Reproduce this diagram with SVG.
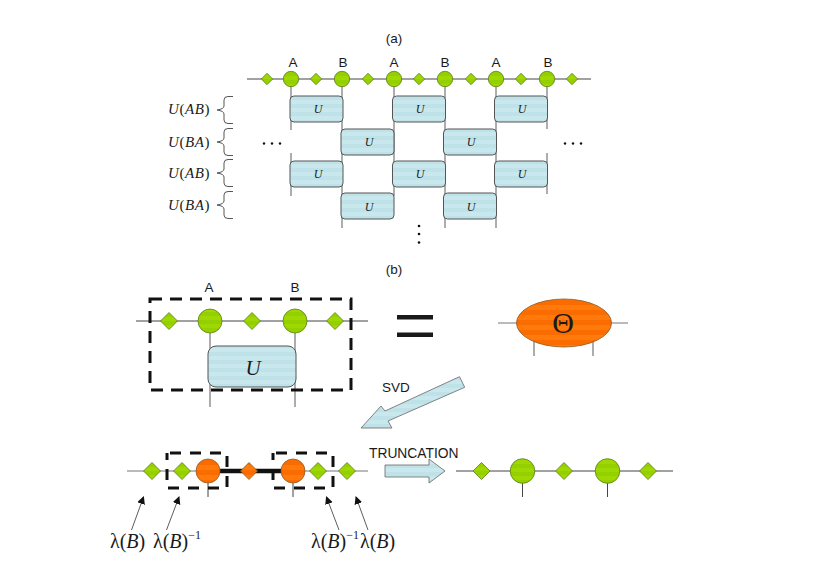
<svg xmlns="http://www.w3.org/2000/svg" width="830" height="587" viewBox="0 0 830 587">
<style>
text{font-family:"Liberation Sans",Arial,sans-serif;fill:#1a1a1a}
.m{font-family:"Liberation Serif","Times New Roman",serif}
.i{font-style:italic}
.w{stroke:#444;stroke-width:1;fill:none}
.wg{stroke:#777;stroke-width:1.2;fill:none}
.g{fill:url(#green);stroke:#5c7d1c;stroke-width:.8}
.o{fill:url(#orange);stroke:#8a5a2a;stroke-width:.8}
.u{fill:url(#blue);stroke:#555;stroke-width:1}
.d{fill:none;stroke:#111;stroke-width:3;stroke-dasharray:12 8}
.ds{fill:none;stroke:#111;stroke-width:3;stroke-dasharray:11 9;stroke-dashoffset:-3}
.br{fill:none;stroke:#444;stroke-width:.9}
.t{text-anchor:middle;font-size:13.500px}
.r{font-size:15px;letter-spacing:.6px}
.ar{fill:url(#blue);stroke:#666;stroke-width:.8}
.pt{stroke:#333;stroke-width:.8;fill:none;marker-end:url(#tip)}
</style>
<defs>
<pattern id="blue" width="8" height="8" patternUnits="userSpaceOnUse"><rect width="8" height="8" fill="#c9e8ed"/><rect width="8" height="4" fill="#bee2e8"/></pattern>
<pattern id="green" width="8" height="8" patternUnits="userSpaceOnUse"><rect width="8" height="8" fill="#9fd800"/><rect width="8" height="4" fill="#94cf00"/></pattern>
<pattern id="orange" width="10" height="10" patternUnits="userSpaceOnUse"><rect width="10" height="10" fill="#ff7a0a"/><rect width="10" height="5" fill="#fb6c00"/></pattern>
<marker id="tip" markerWidth="9" markerHeight="9" refX="7" refY="4" orient="auto" markerUnits="userSpaceOnUse"><path d="M0 0L8 4L0 8Z" fill="#111"/></marker>
<path id="dia-s" d="M0-5.700L5.700 0L0 5.700L-5.700 0Z" class="g"/>
<path id="dia-l" d="M0-8.500L8.500 0L0 8.500L-8.500 0Z" class="g"/>
<path id="brace" d="M16-13.500H11Q7-13.500 7-10V-4Q7-1 0 0Q7 1 7 4V10Q7 13.500 11 13.500H16" class="br"/>
</defs>

<g id="connectors">
  <path class="w" d="M247 79H591"/>
  <path class="wg" d="M291 79V130M291 153V196M342 79V228M394 79V196M445 79V228M496 79V228M547 79V129M547 153V194"/>
  <path class="w" d="M136 321H368"/>
  <path class="wg" d="M210 321V407M295 321V407"/>
  <path class="wg" d="M498 323H628M534 340V356M593 340V356"/>
  <path class="wg" d="M127 471H368"/>
  <path class="w" d="M208 483V497M293 483V497"/>
  <path d="M220 471H281" stroke="#111" stroke-width="4.500" fill="none"/>
  <path class="w" d="M456 471H673M522.500 471V497M607.500 471V497"/>
  <path class="pt" d="M131.500 530L143.500 497"/>
  <path class="pt" d="M166.500 530L179 497"/>
  <path class="pt" d="M339 530L326.500 497"/>
  <path class="pt" d="M368 530L356 497"/>
</g>

<g id="label-a"><text class="t" x="394" y="43">(a)</text></g>
<g id="label-b"><text class="t" x="394" y="274">(b)</text></g>

<g id="top-chain">
  <text class="t" x="293" y="67">A</text><text class="t" x="343" y="67">B</text><text class="t" x="394" y="67">A</text>
  <text class="t" x="445" y="67">B</text><text class="t" x="496" y="67">A</text><text class="t" x="548" y="67">B</text>
  <use href="#dia-s" x="267" y="79"/><use href="#dia-s" x="316" y="79"/><use href="#dia-s" x="368" y="79"/>
  <use href="#dia-s" x="419" y="79"/><use href="#dia-s" x="471" y="79"/><use href="#dia-s" x="521" y="79"/><use href="#dia-s" x="572" y="79"/>
  <circle class="g" cx="291" cy="79" r="7.700"/><circle class="g" cx="342" cy="79" r="7.700"/><circle class="g" cx="394" cy="79" r="7.700"/>
  <circle class="g" cx="445" cy="79" r="7.700"/><circle class="g" cx="496" cy="79" r="7.700"/><circle class="g" cx="547" cy="79" r="7.700"/>
</g>

<g id="gates-row-1">
  <rect class="u" x="290" y="96" width="53" height="26" rx="4"/><rect class="u" x="392.500" y="96" width="53" height="26" rx="4"/><rect class="u" x="494.500" y="96" width="53" height="26" rx="4"/>
  <text class="m i" font-size="12" text-anchor="middle" x="318" y="113">U</text><text class="m i" font-size="12" text-anchor="middle" x="420" y="113">U</text><text class="m i" font-size="12" text-anchor="middle" x="522" y="113">U</text>
</g>
<g id="gates-row-2">
  <rect class="u" x="341" y="129" width="53" height="26" rx="4"/><rect class="u" x="443.500" y="129" width="53" height="26" rx="4"/>
  <text class="m i" font-size="12" text-anchor="middle" x="369" y="146">U</text><text class="m i" font-size="12" text-anchor="middle" x="471" y="146">U</text>
</g>
<g id="gates-row-3">
  <rect class="u" x="290" y="161" width="53" height="26" rx="4"/><rect class="u" x="392.500" y="161" width="53" height="26" rx="4"/><rect class="u" x="494.500" y="161" width="53" height="26" rx="4"/>
  <text class="m i" font-size="12" text-anchor="middle" x="318" y="178">U</text><text class="m i" font-size="12" text-anchor="middle" x="420" y="178">U</text><text class="m i" font-size="12" text-anchor="middle" x="522" y="178">U</text>
</g>
<g id="gates-row-4">
  <rect class="u" x="341" y="193" width="53" height="26" rx="4"/><rect class="u" x="443.500" y="193" width="53" height="26" rx="4"/>
  <text class="m i" font-size="12" text-anchor="middle" x="369" y="211">U</text><text class="m i" font-size="12" text-anchor="middle" x="471" y="211">U</text>
</g>

<g id="row-labels">
  <text class="m r" x="168" y="114"><tspan class="i">U</tspan>(<tspan class="i">AB</tspan>)</text>
  <text class="m r" x="168" y="147"><tspan class="i">U</tspan>(<tspan class="i">BA</tspan>)</text>
  <text class="m r" x="168" y="178"><tspan class="i">U</tspan>(<tspan class="i">AB</tspan>)</text>
  <text class="m r" x="168" y="210"><tspan class="i">U</tspan>(<tspan class="i">BA</tspan>)</text>
  <use href="#brace" x="217" y="110"/><use href="#brace" x="217" y="142"/><use href="#brace" x="217" y="173"/><use href="#brace" x="217" y="205"/>
</g>

<g id="ellipsis-left" fill="#111"><circle cx="264" cy="143.500" r="1.200"/><circle cx="272" cy="143.500" r="1.200"/><circle cx="280" cy="143.500" r="1.200"/></g>
<g id="ellipsis-right" fill="#111"><circle cx="565" cy="143.500" r="1.200"/><circle cx="573" cy="143.500" r="1.200"/><circle cx="581" cy="143.500" r="1.200"/></g>
<g id="ellipsis-down" fill="#111"><circle cx="419" cy="226" r="1.300"/><circle cx="419" cy="234" r="1.300"/><circle cx="419" cy="242.500" r="1.300"/></g>

<g id="pair-block">
  <text class="t" x="209" y="292">A</text><text class="t" x="295" y="292">B</text>
  <use href="#dia-l" x="169" y="321"/><use href="#dia-l" x="252" y="321"/><use href="#dia-l" x="335" y="321"/>
  <circle class="g" cx="210" cy="321" r="12"/><circle class="g" cx="295" cy="321" r="12"/>
  <rect class="u" x="208" y="346" width="88" height="41" rx="8"/>
  <text class="m i" font-size="21" text-anchor="middle" x="253" y="375">U</text>
  <rect class="d" x="150" y="299" width="201" height="91"/>
</g>

<g id="equals" fill="#1a1a1a"><rect x="397" y="315" width="36" height="4.500"/><rect x="397" y="332.500" width="36" height="4.500"/></g>

<g id="theta">
  <ellipse class="o" cx="564" cy="323" rx="47.500" ry="24"/>
  <text class="m" font-size="30" text-anchor="middle" x="563" y="333">Θ</text>
</g>

<g id="svd-arrow">
  <path class="ar" d="M459.500 376.700L464.700 387.300L388 421L392 428L361 428L381 406L385 411Z"/>
  <text x="382" y="392" font-size="13.500">SVD</text>
</g>

<g id="split-chain">
  <use href="#dia-l" x="152" y="471"/><use href="#dia-l" x="182" y="471"/><use href="#dia-l" x="318" y="471"/><use href="#dia-l" x="347" y="471"/>
  <path class="o" d="M249 462.500L257.500 471L249 479.500L240.500 471Z"/>
  <circle class="o" cx="208" cy="471" r="12"/><circle class="o" cx="293" cy="471" r="12"/>
  <rect class="ds" x="167" y="453" width="60" height="35"/>
  <rect class="ds" x="273" y="453" width="60" height="35"/>
</g>

<g id="lambda-labels">
  <text class="m" font-size="20" x="110" y="548">λ(<tspan class="i">B</tspan>)</text>
  <text class="m" font-size="20" x="153" y="548">λ(<tspan class="i">B</tspan>)<tspan font-size="12" dy="-9">−1</tspan></text>
  <text class="m" font-size="20" x="311" y="548">λ(<tspan class="i">B</tspan>)<tspan font-size="12" dy="-9">−1</tspan></text>
  <text class="m" font-size="20" x="360" y="548">λ(<tspan class="i">B</tspan>)</text>
</g>

<g id="truncation-arrow">
  <path class="ar" d="M385 465H429V459L445 471L429 483V477H385Z"/>
  <text x="369" y="458" font-size="13.800">TRUNCATION</text>
</g>

<g id="result-chain">
  <use href="#dia-l" x="481.500" y="471"/><use href="#dia-l" x="564" y="471"/><use href="#dia-l" x="648" y="471"/>
  <circle class="g" cx="522.500" cy="471" r="12.300"/><circle class="g" cx="607.500" cy="471" r="12.300"/>
</g>
</svg>
